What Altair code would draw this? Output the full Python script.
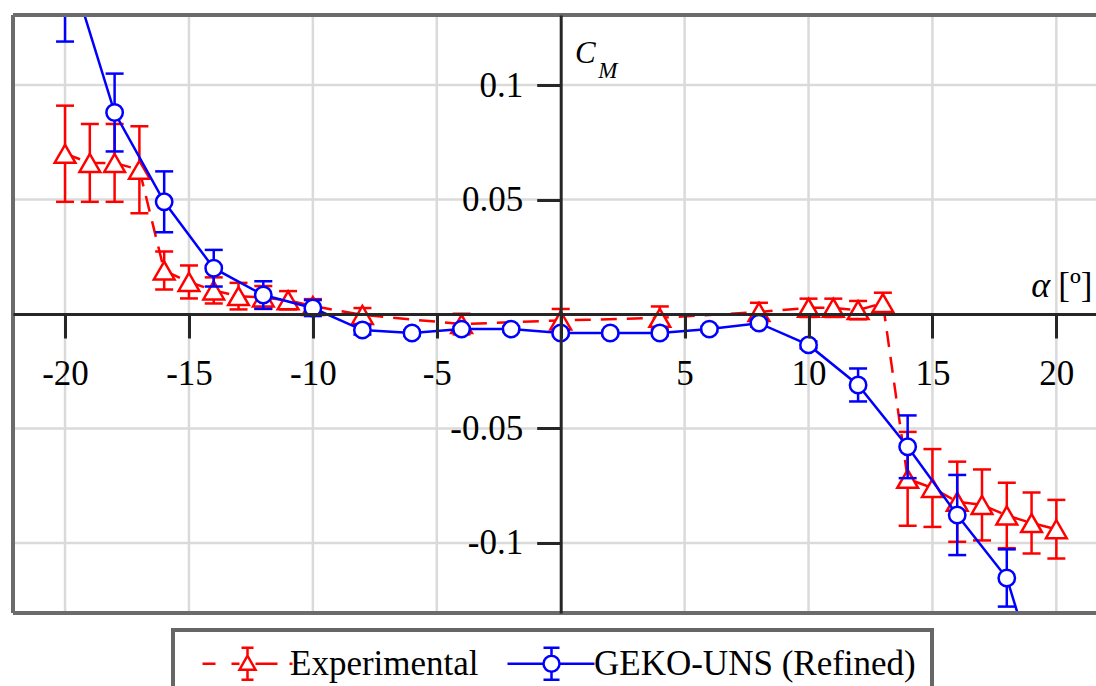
import altair as alt
import pandas as pd

# ---------------- data ----------------
exp_alpha = [-20, -19, -18, -17, -16, -15, -14, -13, -12, -11, -10, -8, -4, 0, 4, 8,
             10, 11, 12, 13, 14, 15, 16, 17, 18, 19, 20]
exp_cm = [0.070, 0.066, 0.066, 0.063, 0.019, 0.014, 0.0103, 0.0078, 0.0072, 0.006, 0.0035,
          -0.0004, -0.0044, -0.0028, -0.0017, 0.0009, 0.0027, 0.0027, 0.0017, 0.0048,
          -0.072, -0.076, -0.082, -0.0834, -0.088, -0.0913, -0.094]
exp_err = [0.021, 0.017, 0.017, 0.019, 0.0083, 0.0072, 0.0057, 0.0058, 0.005, 0.004, 0.003,
           0.003, 0.0045, 0.005, 0.005, 0.004, 0.004, 0.004, 0.004, 0.0045,
           0.0205, 0.017, 0.0175, 0.0155, 0.0143, 0.0133, 0.0128]

geko_alpha = [-20, -18, -16, -14, -12, -10, -8, -6, -4, -2, 0, 2, 4, 6, 8, 10, 12, 14, 16, 18, 20]
geko_cm = [0.158, 0.088, 0.049, 0.020, 0.0083, 0.0026, -0.007, -0.0083, -0.0066, -0.0066,
           -0.0083, -0.0083, -0.0083, -0.0066, -0.004, -0.0135, -0.031, -0.058, -0.0878,
           -0.1153, -0.186]
geko_err = [0.039, 0.017, 0.0133, 0.008, 0.006, 0.0035, 0.002, 0.001, 0.001, 0.001, 0.001,
            0.001, 0.001, 0.001, 0.0015, 0.0015, 0.0072, 0.0137, 0.0175, 0.0125, 0.02]

series_names = ["Experimental", "GEKO-UNS (Refined)"]
series_colors = ["#ff0000", "#0000ff"]

x_ticks = [-20, -15, -10, -5, 0, 5, 10, 15, 20]
y_ticks = [-0.1, -0.05, 0, 0.05, 0.1]
x_grid = [-20, -15, -10, -5, 5, 10, 15, 20]
y_grid = [-0.1, -0.05, 0.05, 0.1]

X_DOM = [-22.1, 21.6]
Y_DOM = [-0.1306, 0.1306]
W, H = 1083, 598
FONT = "Liberation Serif, Tinos, Times New Roman, DejaVu Serif, serif"
RED, BLUE = series_colors

# ---------------- tables ----------------
exp_df = pd.DataFrame({"alpha": exp_alpha, "cm": exp_cm,
                       "lo": [c - e for c, e in zip(exp_cm, exp_err)],
                       "hi": [c + e for c, e in zip(exp_cm, exp_err)]})
geko_df = pd.DataFrame({"alpha": geko_alpha, "cm": geko_cm,
                        "lo": [c - e for c, e in zip(geko_cm, geko_err)],
                        "hi": [c + e for c, e in zip(geko_cm, geko_err)]})

xs = alt.Scale(domain=X_DOM, nice=False, zero=False)
ys = alt.Scale(domain=Y_DOM, nice=False, zero=False)

x_off = -H * (0 - Y_DOM[0]) / (Y_DOM[1] - Y_DOM[0])
y_off = -W * (0 - X_DOM[0]) / (X_DOM[1] - X_DOM[0])

lab_expr = "datum.value == 0 ? '' : (datum.value < 0 ? '-' : '') + format(abs(datum.value), '~g')"
x_axis = alt.Axis(values=x_ticks, offset=x_off, grid=False, tickSize=24, tickWidth=3,
                  tickColor="#262626", domainColor="#262626", domainWidth=3,
                  labelFont=FONT, labelFontSize=35, labelColor="black", labelPadding=18,
                  labelExpr=lab_expr, title=None, zindex=1, labelFlush=False)
y_axis = alt.Axis(values=y_ticks, offset=y_off, grid=False, tickSize=24, tickWidth=3,
                  tickColor="#262626", domainColor="#262626", domainWidth=3,
                  labelFont=FONT, labelFontSize=35, labelColor="black", labelPadding=14,
                  labelExpr=lab_expr, title=None, zindex=1, labelFlush=False)

X = alt.X("alpha:Q", scale=xs, axis=x_axis)
Y = alt.Y("cm:Q", scale=ys, axis=y_axis)

# grid
gx = alt.Chart(pd.DataFrame({"g": x_grid})).mark_rule(color="#dadada", strokeWidth=2.5).encode(
    x=alt.X("g:Q", scale=xs, axis=x_axis))
gy = alt.Chart(pd.DataFrame({"g": y_grid})).mark_rule(color="#dadada", strokeWidth=2.5).encode(
    y=alt.Y("g:Q", scale=ys, axis=y_axis))


def series_layers(df, color, dash, shape, size):
    base = alt.Chart(df)
    line_kw = dict(color=color, strokeWidth=2.5, clip=True)
    if dash:
        line_kw["strokeDash"] = dash
    line = base.mark_line(**line_kw).encode(x=X, y=Y)
    bar = base.mark_rule(color=color, strokeWidth=2.5, clip=True).encode(
        x=X, y=alt.Y("lo:Q", scale=ys, axis=y_axis), y2="hi:Q")
    cap_lo = base.mark_tick(color=color, orient="horizontal", size=18, thickness=2.5,
                            opacity=1, clip=True).encode(
        x=X, y=alt.Y("lo:Q", scale=ys, axis=y_axis))
    cap_hi = base.mark_tick(color=color, orient="horizontal", size=18, thickness=2.5,
                            opacity=1, clip=True).encode(
        x=X, y=alt.Y("hi:Q", scale=ys, axis=y_axis))
    pts = base.mark_point(shape=shape, filled=True, fill="white", stroke=color, strokeWidth=2.5,
                          size=size, opacity=1, clip=True).encode(x=X, y=Y)
    return [line, bar, cap_lo, cap_hi, pts]


exp_layers = series_layers(exp_df, RED, [16, 10], "triangle-up", 430)
geko_layers = series_layers(geko_df, BLUE, None, "circle", 270)

# legend (custom composite symbols: line + marker + error bar)
tri_path = ("M -4.5 0 L -3.2 0 M -1.6 0 L -0.8 0 M 0.8 0 L 3.0 0 M 4.2 0 L 4.5 0 "
            "M 0 -0.8 L 0.8 0.6 L -0.8 0.6 Z "
            "M 0 -0.8 L 0 -1.6 M -0.6 -1.6 L 0.6 -1.6 M 0 0.6 L 0 1.6 M -0.6 1.6 L 0.6 1.6")
circ_path = ("M -4.4 0 L -0.8 0 M 0.8 0 L 4.3 0 "
             "M -0.8 0 A 0.8 0.8 0 1 0 0.8 0 A 0.8 0.8 0 1 0 -0.8 0 "
             "M 0 -0.8 L 0 -1.6 M -0.8 -1.6 L 0.8 -1.6 M 0 0.8 L 0 1.6 M -0.8 1.6 L 0.8 1.6")

leg = alt.Legend(title=None, orient="none", legendX=160, legendY=615, direction="horizontal",
                 symbolSize=400, symbolStrokeWidth=2.5, symbolOffset=41, labelOffset=25,
                 columnPadding=14, padding=16, strokeColor="#666666", fillColor="white",
                 labelFont=FONT, labelFontSize=35, labelColor="black", labelLimit=0,
                 symbolFillColor="white")
legend_layer = alt.Chart(pd.DataFrame({"series": series_names, "alpha": [0, 0], "cm": [0, 0]})
                         ).mark_point(filled=False, strokeWidth=2.5, opacity=1).encode(
    x=X, y=Y,
    shape=alt.Shape("series:N", scale=alt.Scale(domain=series_names, range=[tri_path, circ_path]),
                    legend=leg),
    color=alt.Color("series:N", scale=alt.Scale(domain=series_names, range=series_colors),
                    legend=leg),
).transform_filter("false")

# annotations
ann = alt.Chart(pd.DataFrame({"a": [0]}))
c_txt = ann.mark_text(text="C", font=FONT, fontSize=31, fontStyle="italic", align="left",
                      baseline="alphabetic", color="black").encode(
    x=alt.X(datum=0.58, scale=xs, axis=x_axis), y=alt.Y(datum=0.1096, scale=ys, axis=y_axis))
m_txt = ann.mark_text(text="M", font=FONT, fontSize=23, fontStyle="italic", align="left",
                      baseline="alphabetic", color="black").encode(
    x=alt.X(datum=1.52, scale=xs, axis=x_axis), y=alt.Y(datum=0.103, scale=ys, axis=y_axis))
a_txt = ann.mark_text(text="α", font=FONT, fontSize=36, fontStyle="italic", align="right",
                      baseline="alphabetic", color="black").encode(
    x=alt.X(datum=19.75, scale=xs, axis=x_axis), y=alt.Y(datum=0.0074, scale=ys, axis=y_axis))
u_txt = ann.mark_text(text="[º]", font=FONT, fontSize=35, align="left",
                      baseline="alphabetic", color="black").encode(
    x=alt.X(datum=20.08, scale=xs, axis=x_axis), y=alt.Y(datum=0.0074, scale=ys, axis=y_axis))

# frame (top, left, bottom)
frame_top = ann.mark_rule(color="#6b6b6b", strokeWidth=4).encode(
    y=alt.Y(datum=Y_DOM[1], scale=ys, axis=y_axis))
frame_bot = ann.mark_rule(color="#6b6b6b", strokeWidth=4).encode(
    y=alt.Y(datum=Y_DOM[0], scale=ys, axis=y_axis))
frame_left = ann.mark_rule(color="#6b6b6b", strokeWidth=4).encode(
    x=alt.X(datum=X_DOM[0], scale=xs, axis=x_axis))

chart = alt.layer(
    gx, gy, *exp_layers, *geko_layers, legend_layer,
    c_txt, m_txt, a_txt, u_txt, frame_top, frame_bot, frame_left,
).properties(
    width=W, height=H,
    padding={"left": 13, "top": 15, "right": 0, "bottom": 73},
    autosize=alt.AutoSizeParams(type="none"),
    background="white",
).configure_view(stroke=None).configure_legend(strokeWidth=4)

chart.save("out.html", embed_options={"renderer": "svg", "actions": False})
